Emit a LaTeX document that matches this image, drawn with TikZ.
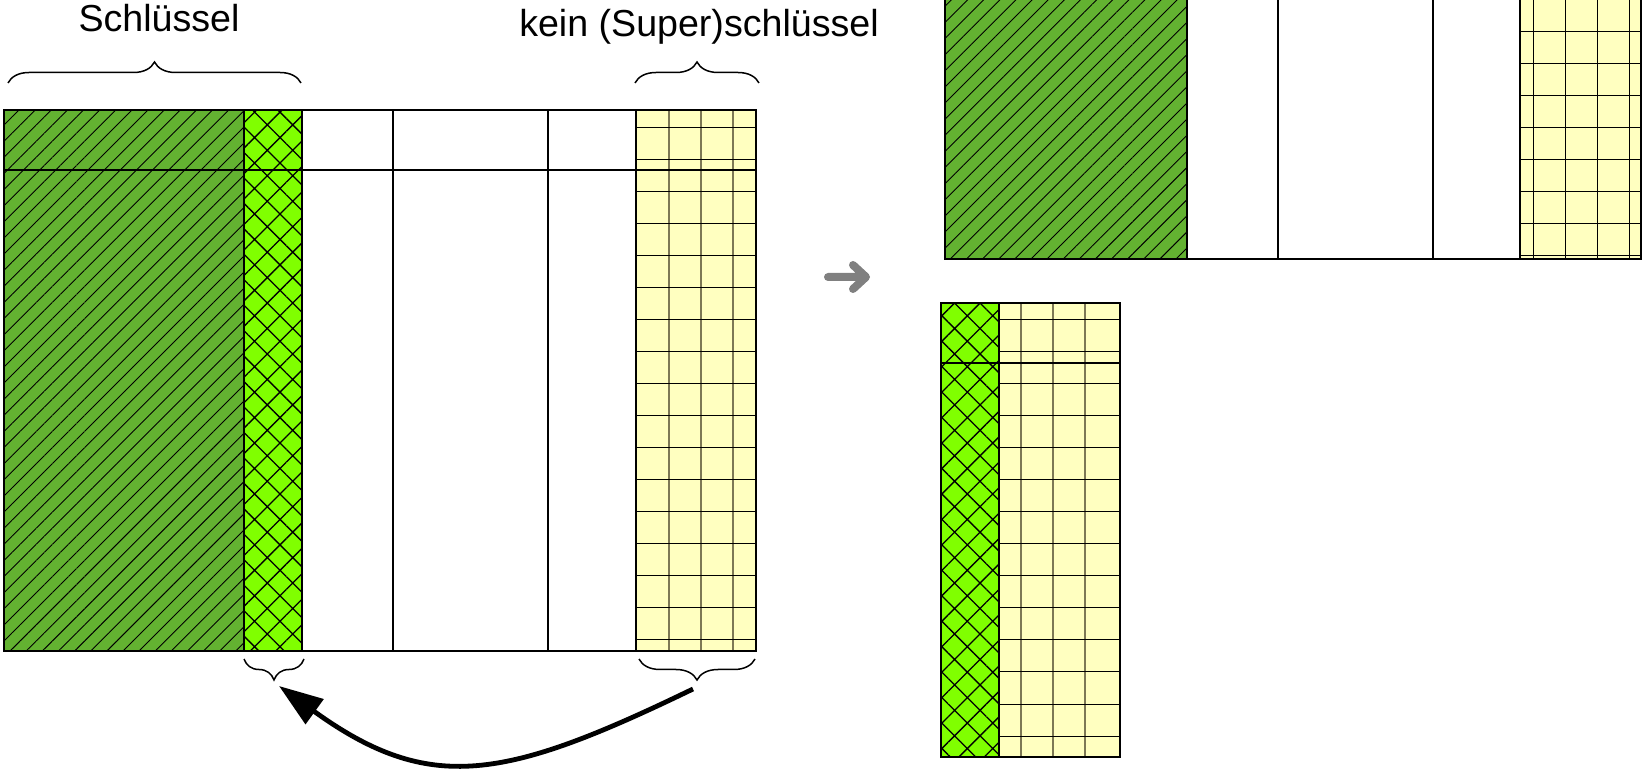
\documentclass[tikz,border=0pt]{standalone}
\usepackage{fontspec}
\setmainfont{Liberation Sans}
\usetikzlibrary{patterns.meta,decorations.pathreplacing,arrows.meta}

\definecolor{keygreen}{RGB}{99,178,49}
\definecolor{partgreen}{RGB}{128,255,0}
\definecolor{nonkeyyellow}{RGB}{255,255,192}
\definecolor{gridolive}{RGB}{125,120,85}
\definecolor{movegray}{RGB}{128,128,128}

\tikzset{
  keycol/.style={fill=keygreen, postaction={pattern={Lines[angle=45,distance=5.7pt,line width=0.45pt]}}},
  partcol/.style={fill=partgreen, postaction={pattern={Hatch[angle=45,distance=9pt,line width=0.65pt]}}},
  nonkeycol/.style={fill=nonkeyyellow},
  tableline/.style={line width=0.8pt},
  gridh/.style={line width=0.5pt},
  gridv/.style={line width=0.6pt, draw=gridolive},
  bracket/.style={decorate, decoration={brace, amplitude=10.5pt}, line width=0.75pt},
  headtext/.style={font=\fontsize{18.8}{22}\selectfont, anchor=base, inner sep=0pt},
}

\begin{document}
\begin{tikzpicture}[x=0.5pt, y=-0.5pt]

\useasboundingbox (0,0) rectangle (1644,774);

% labels
\node [headtext] (key-label) at (159,32) {Schlüssel};
\node [headtext] (nokey-label) at (699,37) {kein (Super)schlüssel};

% braces
\draw [bracket] (8,83) -- (301,83);
\draw [bracket] (635,83) -- (759,83);
\draw [bracket] (304,659) -- (244,659);
\draw [bracket] (755,659) -- (639,659);

% original table
\path [keycol] (4,110) rectangle (244,651);
\path [partcol] (244,110) rectangle (302,651);
\path [nonkeycol] (636,110) rectangle (756,651);
\foreach \gx in {669,701,733}
  \draw [gridv] (\gx,110) -- (\gx,651);
\foreach \gy in {128,160,...,640}
  \draw [gridh] (636,\gy) -- (756,\gy);
\draw [tableline] (4,110) rectangle (756,651);
\draw [tableline] (4,170) -- (756,170);
\foreach \cx in {244,302,393,548,636}
  \draw [tableline] (\cx,110) -- (\cx,651);

% moving the non-key column out
\coordinate (nokey-tip) at (693,689);
\coordinate (part-tip) at (279,686);
\draw [line width=2.4pt, -{Triangle[length=22pt,width=15pt]}] (nokey-tip) .. controls (505,780) and (430,795) .. (part-tip);

% arrow between the steps
\draw [movegray, line width=4pt, line cap=round, line join=round] (828,277) -- (864,277) (853,265) -- (866,277) -- (853,289);

% remaining table
\begin{scope}
\clip (0,0) rectangle (1644,774);
\path [keycol] (945,-300) rectangle (1187,259);
\path [nonkeycol] (1520,-300) rectangle (1641,259);
\foreach \gx in {1533,1565,1597,1629}
  \draw [gridh] (\gx,-300) -- (\gx,259);
\foreach \gy in {0,32,...,256}
  \draw [gridh] (1520,\gy) -- (1641,\gy);
\draw [tableline] (945,-300) rectangle (1641,259);
\foreach \cx in {1187,1278,1433,1520}
  \draw [tableline] (\cx,-300) -- (\cx,259);
\end{scope}

% new table
\path [partcol] (941,303) rectangle (999,757);
\path [nonkeycol] (999,303) rectangle (1120,757);
\foreach \gx in {1021,1053,1085}
  \draw [gridv] (\gx,303) -- (\gx,757);
\foreach \gy in {320,352,...,740}
  \draw [gridh] (999,\gy) -- (1120,\gy);
\draw [tableline] (941,303) rectangle (1120,757);
\draw [tableline] (941,363) -- (1120,363);
\draw [tableline] (999,303) -- (999,757);

\end{tikzpicture}
\end{document}
